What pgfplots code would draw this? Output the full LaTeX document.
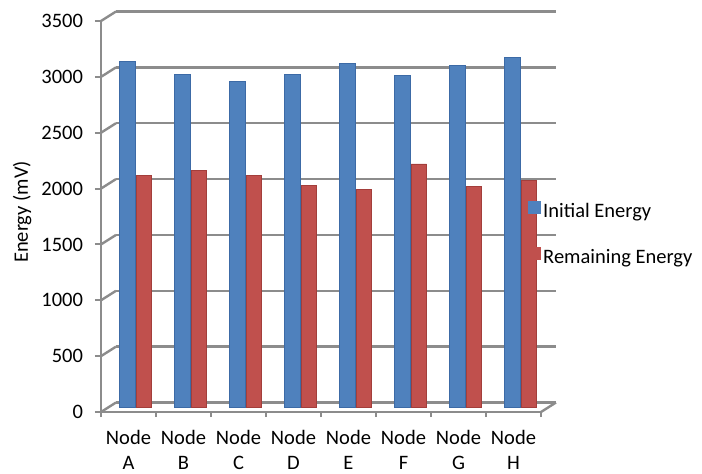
\documentclass[border=0pt]{standalone}
\usepackage{pgfplots}
\pgfplotsset{compat=1.18}
\usepackage{fontspec}
\setmainfont{Carlito}
\definecolor{gridgray}{HTML}{8C8C8C}
\definecolor{blueM}{HTML}{4F81BD}
\definecolor{blueD}{HTML}{3C6AA6}
\definecolor{redM}{HTML}{C0504D}
\definecolor{redD}{HTML}{A33E3B}
\pgfplotstableread{
x init remain
0 3100 2075
1 2980 2125
2 2920 2075
3 2980 1985
4 3080 1955
5 2970 2180
6 3060 1975
7 3130 2030
}\energy
\begin{document}
\begin{tikzpicture}[font=\fontsize{10.25}{12.5}\selectfont]
\path[use as bounding box] (0,0) rectangle (351pt,236.5pt);
\begin{axis}[
  at={(50.5pt,30.5pt)}, anchor=south west,
  scale only axis, width=220pt, height=195.5pt,
  xmin=-0.5, xmax=7.5, ymin=0, ymax=3500,
  clip=false,
  axis x line*=bottom, axis y line*=left,
  axis line style={gridgray, line width=1.2pt, -},
  ytick={0,500,...,3500},
  xtick={0,...,7},
  xticklabels={{Node\\A},{Node\\B},{Node\\C},{Node\\D},{Node\\E},{Node\\F},{Node\\G},{Node\\H}},
  xticklabel style={align=center, yshift=-2.5pt},
  minor xtick={-0.5,0.5,...,7.5},
  major x tick style={draw=none},
  tick align=outside,
  major tick length=3pt, minor tick length=2.5pt,
  tick style={gridgray, line width=1pt},
  yticklabel style={xshift=-2.5pt},
  /pgf/number format/assume math mode=true,
  /pgf/number format/1000 sep={},
  ymajorgrids,
  major grid style={gridgray, line width=1.2pt, xshift=7.5pt, yshift=4.75pt},
  ylabel={Energy (mV)},
  ylabel style={at={(axis description cs:-0.1795,0.5115)}, anchor=center, rotate=0},
  legend style={at={(axis description cs:0.9705,0.453)}, anchor=west, draw=none, fill=none,
    inner sep=0pt, row sep=12pt, nodes={inner sep=1pt}},
  legend cell align=left,
]
\pgfplotsinvokeforeach{0,500,...,3500}{
  \draw[gridgray, line width=1.2pt] (axis cs:-0.5,#1) -- ++(7.5pt,4.75pt);
}
\draw[gridgray, line width=1.2pt] (axis cs:7.5,0) -- ++(7.5pt,4.75pt);
\addplot[ybar, bar width=7.75pt, bar shift=-0.5pt, yshift=2.25pt,
  fill=blueM, draw=blueD, line width=0.4pt,
  legend image code/.code={\fill[blueM] (0pt,-3pt) rectangle (6pt,3pt);}]
  table[x=x, y=init] {\energy};
\addlegendentry{Initial Energy}
\addplot[ybar, bar width=7.75pt, bar shift=7.75pt, yshift=2.25pt,
  fill=redM, draw=redD, line width=0.4pt,
  legend image code/.code={\fill[redM] (0pt,-3pt) rectangle (6pt,3pt);}]
  table[x=x, y=remain] {\energy};
\addlegendentry{Remaining Energy}
\end{axis}
\end{tikzpicture}
\end{document}
